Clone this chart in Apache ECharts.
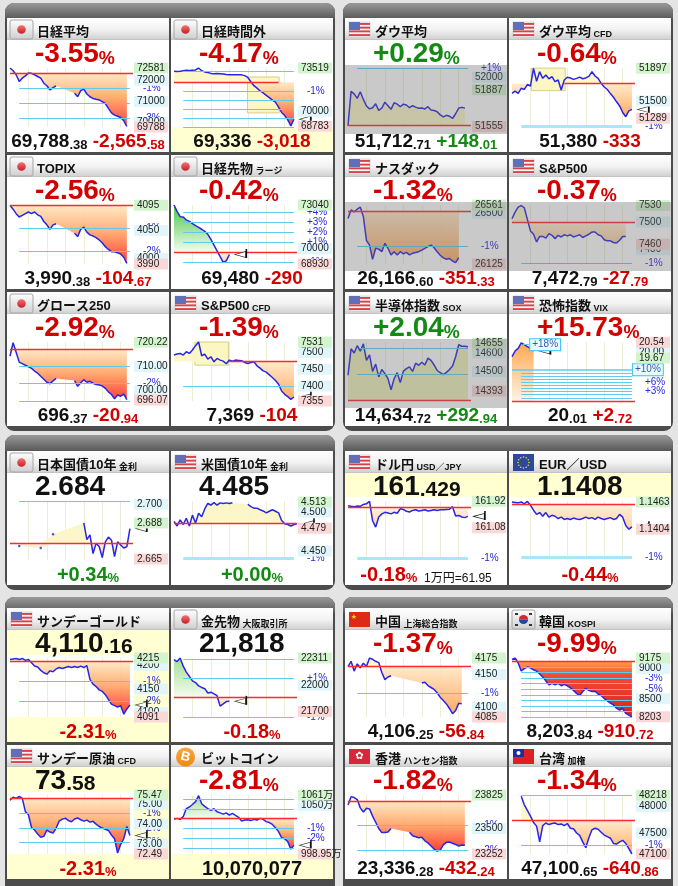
<!DOCTYPE html>
<html>
<head>
<meta charset="utf-8">
<script src="https://cdn.jsdelivr.net/npm/echarts@6/dist/echarts.min.js"></script>
</head>
<body style="margin:0;background:#e4e4e4">
<div id="container" style="width:678px;height:886px"></div>
<script>
// ---------------------------------------------------------------
// values, one slot per time step (null = no trade)
// ---------------------------------------------------------------
const nikkeiValues = [72581, 72450, 72260, 71940, 72100, 72210, 72340, 72330, 72260, 72180, 72100, 71860, 71740, 71540, 71650, 71740, null, null, null, null, null, 71380, 71220, 71510, 71580, 71350, 71220, 71140, 71100, 71070, 70990, 70900, 70670, 70460, 70350, 70300, 70240, 70080, 69820];
const jikangaiValues = [73250, 73230, 73260, 73300, 73330, 73310, 73340, 73360, 73519, 73300, 73200, 73150, 73080, 73060, 73070, 73060, 73030, 72990, 72980, 72980, 72970, 72975, 72960, 72900, 72750, 72400, 72080, 71880, 71650, 71490, 71300, 71110, 70900, 70740, 70330, 69900, 69650, 69300, 68800, 69350];
const dowValues = [51561, 51873, 51850, 51810, 51870, 51800, 51740, 51714, 51725, 51760, 51700, 51722, 51775, 51743, 51710, 51770, 51757, 51734, 51757, 51750, 51725, 51743, 51730, 51720, 51722, 51714, 51734, 51705, 51699, 51688, 51660, 51642, 51656, 51648, 51627, 51670, 51722, 51728, 51722];
const dowCfdValues = [51593, 51620, 51593, 51654, 51640, 51700, 51682, 51897, 51740, 51856, 51775, 51816, 51770, 51796, 51735, 51755, 51634, 51755, 51788, 51780, 51763, 51775, 51790, 51770, 51780, 51800, 51856, 51804, 51775, 51715, 51670, 51640, 51590, 51545, 51490, 51440, 51360, 51309, 51380, 51398];
const topixValues = [4095, 4088, 4080, 4074, 4077, 4080, 4083, 4080, 4083, 4078, 4075, 4066, 4060, 4052, 4060, 4062, null, null, null, null, null, 4045, 4039, 4052, 4056, 4047, 4042, 4040, 4037, 4033, 4028, 4021, 4016, 4012, 4012, 4010, 4008, 4002, 3991];
const futuresValues = [73040, 72600, 72227, 72200, 72000, 71900, 71750, 71600, 71480, 71350, 71200, 71000, 70650, 70250, 69850, 69441, 69050, 69150, 69590];
const nasdaqValues = [26462, 26524, 26510, 26530, 26545, 26475, 26300, 26265, 26160, 26241, 26235, 26216, 26278, 26241, 26192, 26216, 26192, 26216, 26200, 26211, 26192, 26204, 26210, 26216, 26228, 26241, 26253, 26265, 26245, 26216, 26190, 26170, 26160, 26165, 26147, 26135, 26172];
const spValues = [7506, 7518, 7527, 7530, 7526, 7505, 7484, 7478, 7464, 7474, 7474, 7471, 7479, 7476, 7470, 7476, 7473, 7477, 7475, 7477, 7473, 7475, 7477, 7472, 7475, 7478, 7482, 7482, 7477, 7475, 7468, 7466, 7466, 7463, 7462, 7467, 7474, 7474];
const growthValues = [714.4, 720.0, 716.0, 711.9, 711.3, 710.6, 710.0, 709.3, 708.2, 707.3, 706.0, 704.8, 703.5, 702.9, 704.1, 705.1, null, null, null, null, null, 704.2, 701.8, 703.3, 704.6, 703.5, 703.9, 703.1, 702.6, 702.4, 702.0, 701.0, 699.5, 698.4, 696.6, 698.2, 697.7, 698.6, 696.3];
const spCfdValues = [7492, 7495, 7497, 7492, 7502, 7497, 7507, 7520, 7531, 7490, 7495, 7480, 7487, 7472, 7482, 7477, 7474, 7466, 7477, 7474, 7477, 7476, 7475, 7470, 7467, 7470, 7472, 7460, 7453, 7445, 7441, 7433, 7425, 7416, 7405, 7385, 7375, 7368, 7360, 7367];
const soxValues = [14479, 14623, 14600, 14640, 14610, 14650, 14560, 14590, 14500, 14540, 14470, 14510, 14488, 14461, 14400, 14460, 14493, 14440, 14500, 14515, 14525, 14500, 14545, 14533, 14550, 14535, 14572, 14560, 14535, 14505, 14493, 14483, 14495, 14510, 14530, 14580, 14645, 14637, 14637, 14634];
const vixValues = [19.74, 20.05, 20.20, 20.50, 20.40, 20.30, 20.20, 20.05];
const jgbValues = [null, null, null, 2.6734, null, null, null, null, null, null, 2.672, null, null, null, 2.6808, null, null, null, null, null, null, null, null, null, 2.688, 2.6774, 2.6804, 2.6685, 2.675, 2.673, 2.666, 2.676, 2.679, 2.677, 2.6665, 2.676, 2.674, 2.672, 2.673, 2.6844];
const ustValues = [4.488, 4.482, 4.490, 4.484, 4.492, 4.482, 4.496, 4.486, 4.4985, 4.494, 4.504, 4.511, 4.509, 4.512, 4.509, 4.5118, 4.5109, 4.5118, 4.5109, 4.512, null, null, null, null, 4.510, 4.507, 4.505, 4.505, 4.503, 4.5014, 4.499, 4.501, 4.503, 4.501, 4.499, 4.489, 4.485, 4.484, 4.482, 4.484, 4.485];
const usdJpyValues = [161.78, 161.76, 161.75, 161.77, 161.76, 161.82, 161.84, 161.92, 161.30, 161.10, 161.42, 161.52, 161.57, 161.55, 161.52, 161.57, 161.54, 161.68, 161.66, 161.60, 161.58, 161.63, 161.65, 161.61, 161.63, 161.65, 161.61, 161.63, 161.65, 161.63, 161.65, 161.65, 161.66, 161.67, 161.75, 161.45, 161.47, 161.42, 161.40, 161.44];
const eurUsdValues = [1.1463, 1.1462, 1.1461, 1.1463, 1.1459, 1.1464, 1.1456, 1.1445, 1.1436, 1.1440, 1.1432, 1.1440, 1.1430, 1.1434, 1.1432, 1.1427, 1.1430, 1.1425, 1.1427, 1.1425, 1.1428, 1.1426, 1.1425, 1.1427, 1.1430, 1.1427, 1.1429, 1.1425, 1.1430, 1.1427, 1.1425, 1.1427, 1.1429, 1.1425, 1.1427, 1.1436, 1.1430, 1.1412, 1.1404, 1.1409];
const goldValues = [4212, 4213, 4214, 4212, 4214, 4210, 4212, 4205, 4198, 4196, 4189, 4184, 4181, 4188, 4186, 4192, 4195, 4193, 4195, 4197, 4195, 4197, 4195, 4198, 4195, 4199, 4170, 4160, 4155, 4148, 4145, 4138, 4128, 4118, 4115, 4112, 4115, 4097, 4108, 4116];
const goldFutValues = [22292, 22270, 22311, 22217, 22150, 22100, 22049, 22030, 21992, 21974, 21960, 21910, 21920, 21900, 21880, 21760, 21786, 21812, 21815];
const chinaValues = [4162, 4170, 4155, 4166, 4160, 4167, 4162, 4175, 4173, 4170, 4168, 4153, 4142, 4146, 4148, null, null, null, null, null, null, null, null, null, 4137, 4138, 4133, 4130, 4127, 4122, 4115, 4110, 4105, 4098, 4090, 4095, 4106, 4105];
const kospiValues = [9150, 9175, 9094, 8960, 9000, 9025, 9013, 8980, 8960, 8910, 8860, 8800, 8730, 8755, 8730, 8755, 8716, 8740, 8716, 8680, 8640, 8590, 8554, 8620, 8673, 8640, 8620, 8625, 8580, 8554, 8505, 8465, 8430, 8400, 8345, 8315, 8340, 8260, 8230, 8203];
const crudeValues = [75.20, 75.36, 75.30, 75.40, 75.30, 74.63, 74.47, 73.83, 73.70, 73.50, 73.34, 73.38, 73.70, 73.60, 73.55, 73.80, 74.15, 74.25, 74.30, 74.18, 74.12, 74.26, 74.31, 74.22, 74.15, 74.20, 74.10, 74.14, 74.00, 73.88, 73.80, 73.74, 73.68, 73.45, 73.26, 72.54, 72.98, 73.26, 73.88, 73.42];
const btcValues = [1035.4, 1036.4, 1035.4, 1038.2, 1046.7, 1048.4, 1051.0, 1054.0, 1060.3, 1051.8, 1049.0, 1046.7, 1045.0, 1046.5, 1043.3, 1042.2, 1040.9, 1042.2, 1039.9, 1041.6, 1039.5, 1037.5, 1033.5, 1034.7, 1035.0, 1034.1, 1035.4, 1034.7, 1036.4, 1035.4, 1033.0, 1032.0, 1030.0, 1026.5, 1022.5, 1016.0, 1015.0, 1012.0, 1004.1, 1008.1];
const hkValues = [23728, 23809, 23800, 23780, 23700, 23660, 23696, 23690, 23620, 23560, 23500, 23460, 23460, 23465, 23500, null, null, null, null, null, 23464, 23430, 23420, 23410, 23415, 23380, 23360, 23330, 23300, 23280, 23290, 23340, 23365, 23368, 23356, 23345, 23330, 23340, 23336];
const taiwanValues = [null, null, null, 48200, 48035, 47930, 47820, 47700, 47630, 47332, 47640, 47690, 47660, 47680, 47690, 47660, 47670, 47640, 47680, 47590, 47580, 47500, 47454, 47330, 47220, 47410, 47560, 47590, 47570, 47515, 47460, 47430, 47400, 47300, 47290, 47330, 47360, 47300, 47200, 47100];

// [previous close, axis min, axis max]
const nikkeiLevels = [72353.96, 69788, 72581];
const jikangaiLevels = [72354, 68720, 73519];
const dowLevels = [51564.7, 51550, 52085];
const dowCfdLevels = [51713, 51184, 51901];
const topixLevels = [4095.05, 3990, 4095.5];
const futuresLevels = [69770, 68930, 73040];
const nasdaqLevels = [26517.93, 26125, 26561];
const spLevels = [7500.58, 7424, 7531];
const growthLevels = [717.31, 695.7, 720.3];
const spCfdLevels = [7473, 7355, 7531];
const soxLevels = [14341.78, 14339, 14660];
const vixLevels = [17.29, 17.29, 20.55];
const jgbLevels = [2.6749, 2.6644, 2.702];
const ustLevels = [4.485, 4.4383, 4.5142];
const usdJpyLevels = [161.72, 160.05, 161.93];
const eurUsdLevels = [1.14584, 1.13372, 1.1465];
const goldLevels = [4207.3, 4091, 4215];
const goldFutLevels = [21857, 21636, 22311];
const chinaLevels = [4163.09, 4085, 4175];
const kospiLevels = [9114.56, 8200, 9175];
const crudeLevels = [75.32, 72.49, 75.47];
const btcLevels = [1036.12, 998.95, 1061];
const hkLevels = [23768.52, 23252, 23825];
const taiwanLevels = [47741.51, 47100, 48222];

// price tags on the right: [value, label, kind]  g = green, p = pink, c = level
const nikkeiTags = [[72000, '72000', 'c'], [71000, '71000', 'c'], [70000, '70000', 'c'], [72581, '72581', 'g'], [69788, '69788', 'p']];
const jikangaiTags = [[70000, '70000', 'c'], [73519, '73519', 'g'], [68783, '68783', 'p']];
const dowTags = [[52000, '52000', 'c'], [51887, '51887', 'g'], [51555, '51555', 'p']];
const dowCfdTags = [[51500, '51500', 'c'], [51897, '51897', 'g'], [51289, '51289', 'p']];
const topixTags = [[4050, '4050', 'c'], [4000, '4000', 'c'], [4095, '4095', 'g'], [3990, '3990', 'p']];
const futuresTags = [[70000, '70000', 'c'], [73040, '73040', 'g'], [68930, '68930', 'p']];
const nasdaqTags = [[26500, '26500', 'c'], [26561, '26561', 'g'], [26125, '26125', 'p']];
const spTags = [[7500, '7500', 'c'], [7450, '7450', 'c'], [7530, '7530', 'g'], [7460, '7460', 'p']];
const growthTags = [[710, '710.00', 'c'], [700, '700.00', 'c'], [720.22, '720.22', 'g'], [696.07, '696.07', 'p']];
const spCfdTags = [[7500, '7500', 'c'], [7450, '7450', 'c'], [7400, '7400', 'c'], [7531, '7531', 'g'], [7355, '7355', 'p']];
const soxTags = [[14600, '14600', 'c'], [14500, '14500', 'c'], [14655, '14655', 'g'], [14393, '14393', 'p']];
const vixTags = [[20.00, '20.00', 'c'], [20.54, '20.54', 'p'], [19.67, '19.67', 'g']];
const jgbTags = [[2.700, '2.700', 'c'], [2.688, '2.688', 'g'], [2.665, '2.665', 'p']];
const ustTags = [[4.500, '4.500', 'c'], [4.450, '4.450', 'c'], [4.513, '4.513', 'g'], [4.479, '4.479', 'p']];
const usdJpyTags = [[161.92, '161.92', 'g'], [161.08, '161.08', 'p']];
const eurUsdTags = [[1.1463, '1.1463', 'g'], [1.1404, '1.1404', 'p']];
const goldTags = [[4200, '4200', 'c'], [4150, '4150', 'c'], [4100, '4100', 'c'], [4215, '4215', 'g'], [4091, '4091', 'p']];
const goldFutTags = [[22000, '22000', 'c'], [22311, '22311', 'g'], [21700, '21700', 'p']];
const chinaTags = [[4150, '4150', 'c'], [4100, '4100', 'c'], [4175, '4175', 'g'], [4085, '4085', 'p']];
const kospiTags = [[9000, '9000', 'c'], [8500, '8500', 'c'], [9175, '9175', 'g'], [8203, '8203', 'p']];
const crudeTags = [[75.00, '75.00', 'c'], [74.00, '74.00', 'c'], [73.00, '73.00', 'c'], [75.47, '75.47', 'g'], [72.49, '72.49', 'p']];
const btcTags = [[1050, '1050万', 'c'], [1061, '1061万', 'g'], [998.95, '998.95万', 'p']];
const hkTags = [[23500, '23500', 'c'], [23825, '23825', 'g'], [23252, '23252', 'p']];
const taiwanTags = [[48000, '48000', 'c'], [47500, '47500', 'c'], [48218, '48218', 'g'], [47100, '47100', 'p']];

// percent lines from previous close: [percent, label]
const nikkeiPct = [[-1, '-1%'], [-2, '-2%'], [-3, '-3%']];
const jikangaiPct = [[-1, '-1%'], [-2, ''], [-3, ''], [-4, ''], [-5, '']];
const jikangaiLines = [73248];
const dowPct = [[1, '+1%']];
const dowCfdPct = [[-1, '-1%']];
const topixPct = [[-1, '-1%'], [-2, '-2%']];
const futuresPct = [[4, '+4%'], [3, '+3%'], [2, '+2%'], [1, '+1%'], [-1, '-1%']];
const nasdaqPct = [[-1, '-1%']];
const spPct = [[-1, '-1%']];
const growthPct = [[-1, ''], [-2, '-2%'], [-3, '']];
const spCfdPct = [[-1, '']];
const soxPct = [[2, ''], [1, '']];
const vixPct = [[1, ''], [2, ''], [3, '+3%'], [4, ''], [5, ''], [6, '+6%'], [7, ''], [8, ''], [9, ''], [10, '+10%'], [18, '+18%']];
const jgbPct = [[1, '']];
const ustPct = [[-1, '-1%']];
const usdJpyPct = [[-1, '-1%']];
const eurUsdPct = [[-1, '-1%']];
const goldPct = [[-1, '-1%'], [-2, '-2%']];
const goldFutPct = [[2, ''], [1, '+1%'], [-1, '-1%']];
const chinaPct = [[-1, '-1%']];
const kospiPct = [[-1, ''], [-2, ''], [-3, '-3%'], [-4, ''], [-5, '-5%'], [-6, ''], [-7, ''], [-8, ''], [-9, ''], [-10, '']];
const crudePct = [[-1, '-1%'], [-2, '-2%'], [-3, '-3%']];
const btcPct = [[2, ''], [1, ''], [-1, '-1%'], [-2, '-2%'], [-3, '']];
const hkPct = [[-1, '-1%'], [-2, '-2%']];
const taiwanPct = [[1, ''], [-1, '-1%']];

// highlighted ranges: [[slot, value], [slot, value]]
const jikangaiBox = [[23.9, 72788], [34.2, 69866]];
const dowCfdBox = [[6.3, 51900], [17.3, 51626]];
const spCfdBox = [[6.8, 7531], [17.7, 7462]];

// ---------------------------------------------------------------
const FONT = "'Liberation Sans','Noto Sans CJK JP',sans-serif";
const RED = '#d30000', GREEN = '#138a13', BLACK = '#111111';
const COLX = [7, 171, 345, 509];
const ROWY = [18, 155, 292, 451, 608, 745];
const CW = 162, CH = 134;

function topPct(n, color) { return [[n, 28, color, 30], ['%', 18, color, 23]]; }
function topVal(big, small) { return small ? [[big, 28, BLACK, 30], [small, 21, BLACK, 25]] : [[big, 28, BLACK, 30]]; }
function bottomVal(vb, vs, cb, cs, color) {
  const p = [[vb, 19, BLACK, 21]];
  if (vs) p.push([vs, 13, BLACK, 17]);
  if (cb) p.push([' ' + cb, 19, color, 21]);
  if (cs) p.push([cs, 13, color, 17]);
  return p;
}
function bottomPct(n, color, extra) {
  const p = [[n, 20, color, 22], ['%', 13, color, 17]];
  if (extra) p.push(['  ' + extra, 12, BLACK, 17, 'normal']);
  return p;
}

const cells = [
  {col: 0, row: 0, title: '日経平均', flag: 'jp', values: nikkeiValues, levels: nikkeiLevels, tags: nikkeiTags, pct: nikkeiPct, below: 'deep',
    top: topPct('-3.55', RED), bottom: bottomVal('69,788', '.38', '-2,565', '.58', RED)},
  {col: 1, row: 0, title: '日経時間外', flag: 'jp', values: jikangaiValues, levels: jikangaiLevels, tags: jikangaiTags, pct: jikangaiPct, lines: jikangaiLines, below: 'deep',
    prevRange: [0, 34], box: jikangaiBox, pointer: true, yellow: 'bottom',
    top: topPct('-4.17', RED), bottom: bottomVal('69,336', '', '-3,018', '', RED)},
  {col: 2, row: 0, title: 'ダウ平均', flag: 'us', values: dowValues, levels: dowLevels, tags: dowTags, pct: dowPct, above: 'pale', gray: true,
    top: topPct('+0.29', GREEN), bottom: bottomVal('51,712', '.71', '+148', '.01', GREEN)},
  {col: 3, row: 0, title: 'ダウ平均', sub: 'CFD', flag: 'us', values: dowCfdValues, levels: dowCfdLevels, tags: dowCfdTags, pct: dowCfdPct, below: 'mid',
    prevRange: [17, 40], box: dowCfdBox, pointer: true, pctOpts: {'-1': {w: 3, color: '#a6e8f8'}},
    top: topPct('-0.64', RED), bottom: bottomVal('51,380', '', '-333', '', RED)},
  {col: 0, row: 1, title: 'TOPIX', flag: 'jp', values: topixValues, levels: topixLevels, tags: topixTags, pct: topixPct, below: 'deep',
    top: topPct('-2.56', RED), bottom: bottomVal('3,990', '.38', '-104', '.67', RED)},
  {col: 1, row: 1, title: '日経先物', sub: 'ラージ', flag: 'jp', values: futuresValues, levels: futuresLevels, tags: futuresTags, pct: futuresPct, below: 'light', above: 'green',
    pointer: true, top: topPct('-0.42', RED), bottom: bottomVal('69,480', '', '-290', '', RED)},
  {col: 2, row: 1, title: 'ナスダック', flag: 'us', values: nasdaqValues, levels: nasdaqLevels, tags: nasdaqTags, pct: nasdaqPct, below: 'mid', gray: true,
    top: topPct('-1.32', RED), bottom: bottomVal('26,166', '.60', '-351', '.33', RED)},
  {col: 3, row: 1, title: 'S&P500', flag: 'us', values: spValues, levels: spLevels, tags: spTags, pct: spPct, below: 'light', gray: true,
    top: topPct('-0.37', RED), bottom: bottomVal('7,472', '.79', '-27', '.79', RED)},
  {col: 0, row: 2, title: 'グロース250', flag: 'jp', values: growthValues, levels: growthLevels, tags: growthTags, pct: growthPct, below: 'deep',
    top: topPct('-2.92', RED), bottom: bottomVal('696', '.37', '-20', '.94', RED)},
  {col: 1, row: 2, title: 'S&P500', sub: 'CFD', flag: 'us', values: spCfdValues, levels: spCfdLevels, tags: spCfdTags, pct: spCfdPct, below: 'mid', above: 'pale',
    prevRange: [18, 40], box: spCfdBox, pointer: true,
    top: topPct('-1.39', RED), bottom: bottomVal('7,369', '', '-104', '', RED)},
  {col: 2, row: 2, title: '半導体指数', sub: 'SOX', flag: 'us', values: soxValues, levels: soxLevels, tags: soxTags, pct: soxPct, above: 'sox', gray: true,
    pctOpts: {'2': {x0: 4}},
    top: topPct('+2.04', GREEN), bottom: bottomVal('14,634', '.72', '+292', '.94', GREEN)},
  {col: 3, row: 2, title: '恐怖指数', sub: 'VIX', flag: 'us', values: vixValues, levels: vixLevels, tags: vixTags, pct: vixPct, above: 'vix', pointer: true,
    pctOpts: {'10': {box: true, x0: 0, w: 1.5}, '18': {box: true, x0: 3.6, x1: 5.6}},
    top: topPct('+15.73', RED), bottom: bottomVal('20', '.01', '+2', '.72', RED)},
  {col: 0, row: 3, title: '日本国債10年', sub: '金利', flag: 'jp', values: jgbValues, levels: jgbLevels, tags: jgbTags, pct: jgbPct, below: 'light', above: 'pale', pointer: true,
    top: topVal('2.684', ''), bottom: bottomPct('+0.34', GREEN)},
  {col: 1, row: 3, title: '米国債10年', sub: '金利', flag: 'us', values: ustValues, levels: ustLevels, tags: ustTags, pct: ustPct, below: 'light', above: 'pale', pointer: true,
    pctOpts: {'-1': {w: 3, color: '#a6e8f8'}},
    top: topVal('4.485', ''), bottom: bottomPct('+0.00', GREEN)},
  {col: 2, row: 3, title: 'ドル円', sub: 'USD／JPY', flag: 'us', values: usdJpyValues, levels: usdJpyLevels, tags: usdJpyTags, pct: usdJpyPct, below: 'light', pointer: true, yellow: 'top',
    pctOpts: {'-1': {w: 3, color: '#a6e8f8'}},
    top: topVal('161', '.429'), bottom: bottomPct('-0.18', RED, '1万円=61.95')},
  {col: 3, row: 3, title: 'EUR／USD', flag: 'eu', values: eurUsdValues, levels: eurUsdLevels, tags: eurUsdTags, pct: eurUsdPct, below: 'light', pointer: true, yellow: 'top',
    pctOpts: {'-1': {w: 3, color: '#a6e8f8'}},
    top: topVal('1.1408', ''), bottom: bottomPct('-0.44', RED)},
  {col: 0, row: 4, title: 'サンデーゴールド', flag: 'us', values: goldValues, levels: goldLevels, tags: goldTags, pct: goldPct, below: 'deep', pointer: true, yellow: 'full',
    top: topVal('4,110', '.16'), bottom: bottomPct('-2.31', RED)},
  {col: 1, row: 4, title: '金先物', sub: '大阪取引所', flag: 'jp', values: goldFutValues, levels: goldFutLevels, tags: goldFutTags, pct: goldFutPct, below: 'light', above: 'lgreen', pointer: true,
    top: topVal('21,818', ''), bottom: bottomPct('-0.18', RED)},
  {col: 2, row: 4, title: '中国', sub: '上海総合指数', flag: 'cn', values: chinaValues, levels: chinaLevels, tags: chinaTags, pct: chinaPct, below: 'mid',
    top: topPct('-1.37', RED), bottom: bottomVal('4,106', '.25', '-56', '.84', RED)},
  {col: 3, row: 4, title: '韓国', sub: 'KOSPI', flag: 'kr', values: kospiValues, levels: kospiLevels, tags: kospiTags, pct: kospiPct, below: 'kospi',
    top: topPct('-9.99', RED), bottom: bottomVal('8,203', '.84', '-910', '.72', RED)},
  {col: 0, row: 5, title: 'サンデー原油', sub: 'CFD', flag: 'us', values: crudeValues, levels: crudeLevels, tags: crudeTags, pct: crudePct, below: 'deep', pointer: true, yellow: 'full',
    top: topVal('73', '.58'), bottom: bottomPct('-2.31', RED)},
  {col: 1, row: 5, title: 'ビットコイン', flag: 'btc', values: btcValues, levels: btcLevels, tags: btcTags, pct: btcPct, below: 'deep', above: 'lgreen', pointer: true, yellow: 'bottom',
    top: topPct('-2.81', RED), bottom: [['10,070,077', 20, BLACK, 22]]},
  {col: 2, row: 5, title: '香港', sub: 'ハンセン指数', flag: 'hk', values: hkValues, levels: hkLevels, tags: hkTags, pct: hkPct, below: 'deep',
    top: topPct('-1.82', RED), bottom: bottomVal('23,336', '.28', '-432', '.24', RED)},
  {col: 3, row: 5, title: '台湾', sub: '加権', flag: 'tw', values: taiwanValues, levels: taiwanLevels, tags: taiwanTags, pct: taiwanPct, below: 'mid', above: 'pale',
    top: topPct('-1.34', RED), bottom: bottomVal('47,100', '.65', '-640', '.86', RED)}
];

const FILLS = {
  deep: [[0, '#ffe7c2'], [0.45, '#ffa86a'], [1, '#ff3024']],
  mid: [[0, '#ffe9c8'], [1, '#ffa458']],
  light: [[0, '#ffefd9'], [1, '#ffcd98']],
  kospi: [[0, '#ff9436'], [0.25, '#f23a26'], [1, '#d80e0e']],
  pale: [[0, '#fbf5bf'], [1, '#fcf7c8']],
  sox: [[0, '#eef0b2'], [1, '#eef0b6']],
  green: [[0, '#36c236'], [1, '#f2fcee']],
  lgreen: [[0, '#9bdc8c'], [1, '#f3fcef']],
  vix: [[0, '#ffa040'], [1, '#fff2e4']]
};
const TAGBG = {g: '#d3f5cd', p: '#fbd8d8', c: '#e1f6fb'};

function grad(stops) {
  return new echarts.graphic.LinearGradient(0, 0, 0, 1, stops.map(s => ({offset: s[0], color: s[1]})));
}

function richEl(x, y, align, parts) {
  const rich = {};
  let text = '';
  parts.forEach((p, i) => {
    rich['p' + i] = {fontSize: p[1], fontWeight: p[4] || 'bold', fill: p[2], fontFamily: FONT, lineHeight: p[3], verticalAlign: 'bottom'};
    text += '{p' + i + '|' + p[0] + '}';
  });
  return {type: 'text', x: x, y: y, z: 10, silent: true, style: {text: text, rich: rich, align: align, verticalAlign: 'middle'}};
}

function flagEls(kind, x, y) {
  const Z = -4;
  const els = [];
  const rect = (rx, ry, w, h, fill) => ({type: 'rect', z: Z, silent: true, shape: {x: rx, y: ry, width: w, height: h}, style: {fill: fill}});
  if (kind === 'jp' || kind === 'kr') {
    els.push({type: 'rect', z: Z, silent: true, shape: {x: x, y: y, width: 23, height: 19, r: 2},
      style: {fill: grad([[0, '#ffffff'], [1, '#cecece']]), stroke: '#a6a6a6', lineWidth: 1}});
    if (kind === 'jp') {
      els.push({type: 'circle', z: Z, silent: true, shape: {cx: x + 11.5, cy: y + 9.5, r: 4.3}, style: {fill: grad([[0, '#f27272'], [1, '#c41f2a']])}});
    } else {
      els.push({type: 'sector', z: Z, silent: true, shape: {cx: x + 11.5, cy: y + 9.5, r: 4.6, startAngle: Math.PI, endAngle: Math.PI * 2}, style: {fill: '#d42a2a'}});
      els.push({type: 'sector', z: Z, silent: true, shape: {cx: x + 11.5, cy: y + 9.5, r: 4.6, startAngle: 0, endAngle: Math.PI}, style: {fill: '#2a43a0'}});
      [[x + 3, y + 3], [x + 17, y + 3], [x + 3, y + 14], [x + 17, y + 14]].forEach(p => els.push(rect(p[0], p[1], 3, 2, '#333')));
    }
  } else if (kind === 'us') {
    els.push({type: 'rect', z: Z, silent: true, shape: {x: x + 1, y: y + 2, width: 21, height: 15}, style: {fill: '#f4f4f4', stroke: '#b8b8b8', lineWidth: 0.5}});
    for (let i = 0; i < 4; i++) els.push(rect(x + 1, y + 3 + i * 3.7, 21, 1.9, '#d8434a'));
    els.push(rect(x + 1, y + 2, 11, 8, '#6070b8'));
  } else if (kind === 'eu') {
    els.push(rect(x + 1, y + 1, 21, 17, '#2b4a9c'));
    for (let i = 0; i < 12; i++) {
      const a = i / 12 * Math.PI * 2;
      els.push({type: 'circle', z: Z, silent: true, shape: {cx: x + 11.5 + Math.cos(a) * 5.5, cy: y + 9.5 + Math.sin(a) * 5.5, r: 0.8}, style: {fill: '#f2d23a'}});
    }
  } else if (kind === 'cn') {
    els.push(rect(x + 1, y + 2, 21, 15, '#dc2a16'));
    els.push({type: 'text', z: Z, silent: true, x: x + 6, y: y + 7, style: {text: '★', fill: '#f8d820', fontSize: 7, align: 'center', verticalAlign: 'middle', fontFamily: 'DejaVu Sans'}});
  } else if (kind === 'hk') {
    els.push(rect(x + 1, y + 2, 21, 15, '#d6283a'));
    els.push({type: 'text', z: Z, silent: true, x: x + 11.5, y: y + 9.5, style: {text: '✿', fill: '#ffffff', fontSize: 10, align: 'center', verticalAlign: 'middle', fontFamily: 'DejaVu Sans'}});
  } else if (kind === 'tw') {
    els.push(rect(x + 1, y + 2, 21, 15, '#e02020'));
    els.push(rect(x + 1, y + 2, 11, 8, '#1e2d9a'));
    els.push({type: 'circle', z: Z, silent: true, shape: {cx: x + 6.5, cy: y + 6, r: 2}, style: {fill: '#ffffff'}});
  } else if (kind === 'btc') {
    els.push({type: 'circle', z: Z, silent: true, shape: {cx: x + 11.5, cy: y + 10, r: 9.5}, style: {fill: grad([[0, '#f9a640'], [1, '#ee8a12']])}});
    els.push({type: 'text', z: Z, silent: true, x: x + 11.5, y: y + 10, rotation: -0.25,
      style: {text: 'B', fill: '#ffffff', fontSize: 13, fontWeight: 'bold', align: 'center', verticalAlign: 'middle', fontFamily: FONT}});
  }
  return els;
}

const grids = [], xAxes = [], yAxes = [], series = [];
const graphics = [];

graphics.push({type: 'rect', z: -20, silent: true, shape: {x: 0, y: 0, width: 678, height: 886}, style: {fill: '#e4e4e4'}});
[[5, 3, 330, 428], [343, 3, 330, 428], [5, 435, 330, 155], [343, 435, 330, 155], [5, 597, 330, 300], [343, 597, 330, 300]].forEach(p => {
  graphics.push({type: 'rect', z: -19, silent: true, shape: {x: p[0], y: p[1], width: p[2], height: p[3], r: 9}, style: {fill: '#4c4c4c'}});
  graphics.push({type: 'rect', z: -18, silent: true, shape: {x: p[0], y: p[1], width: p[2], height: 16, r: [9, 9, 0, 0]}, style: {fill: grad([[0, '#9a9a9a'], [1, '#585858']])}});
});

cells.forEach((c, gi) => {
  const cx = COLX[c.col], cy = ROWY[c.row];
  const prev = c.levels[0], ymin = c.levels[1], ymax = c.levels[2];
  const vals = c.values;

  // ---- cell frame ----
  graphics.push({type: 'rect', z: -15, silent: true, shape: {x: cx, y: cy, width: CW, height: CH}, style: {fill: '#ffffff'}});
  if (c.yellow === 'bottom') graphics.push({type: 'rect', z: -14, silent: true, shape: {x: cx, y: cy + 109, width: CW, height: CH - 109}, style: {fill: '#ffffd2'}});
  if (c.yellow === 'top') graphics.push({type: 'rect', z: -14, silent: true, shape: {x: cx, y: cy + 21, width: CW, height: 25}, style: {fill: '#ffffd2'}});
  if (c.yellow === 'full') {
    graphics.push({type: 'rect', z: -14, silent: true, shape: {x: cx, y: cy + 21, width: CW, height: CH - 21}, style: {fill: '#ffffd2'}});
    graphics.push({type: 'rect', z: -13, silent: true, shape: {x: cx, y: cy + 47, width: 127, height: 62}, style: {fill: '#ffffff'}});
  }
  graphics.push({type: 'rect', z: -12, silent: true, shape: {x: cx, y: cy, width: CW, height: 21}, style: {fill: grad([[0, '#ffffff'], [0.55, '#f2f2f2'], [1, '#d2d2d2']])}});
  graphics.push({type: 'rect', z: -12, silent: true, shape: {x: cx, y: cy + 21, width: CW, height: 1}, style: {fill: '#c4c4c4'}});
  flagEls(c.flag, cx + 3, cy + 2).forEach(e => graphics.push(e));
  const titleParts = [[c.title, 13, '#111', 20]];
  if (c.sub) titleParts.push([' ' + c.sub, 9, '#111', 17]);
  graphics.push(richEl(cx + 30, cy + 11, 'left', titleParts));
  graphics.push(richEl(cx + 28, cy + 35, 'left', c.top));
  graphics.push(richEl(cx + 81, cy + 123, 'center', c.bottom));
  if (c.gray) graphics.push({type: 'rect', z: 50, silent: true, shape: {x: cx, y: cy + 47, width: CW, height: 69}, style: {fill: 'rgba(105,105,105,0.36)'}});

  // ---- chart ----
  grids.push({left: cx + 3, top: cy + 50, width: 123, height: 59});
  xAxes.push({gridIndex: gi, type: 'value', min: 0, max: 40, interval: 6,
    axisLine: {show: false}, axisTick: {show: false}, axisLabel: {show: false},
    splitLine: {show: true, showMinLine: false, showMaxLine: false, lineStyle: {color: '#eeedd8', width: 1}}});
  yAxes.push({gridIndex: gi, type: 'value', min: ymin, max: ymax, show: false});

  const pts = f => vals.map((v, i) => [i, v == null ? null : f(v)]);
  const common = {type: 'line', xAxisIndex: gi, yAxisIndex: gi, showSymbol: false, symbol: 'none', silent: true, animation: false};

  const pctOpts = c.pctOpts || {};
  const pctLines = c.pct.map(p => {
    const o = Object.assign({}, pctOpts[String(p[0])] || {});
    const v = prev * (1 + p[0] / 100);
    const x0 = o.x0 != null ? o.x0 : 3, x1 = o.x1 != null ? o.x1 : 39;
    let label = {show: false};
    if (p[1]) {
      label = {show: true, position: 'end', formatter: p[1], color: '#2626dd', fontSize: 10, fontFamily: FONT, distance: 13};
      if (o.box) Object.assign(label, {backgroundColor: '#e8f9ff', borderColor: '#39c4ee', borderWidth: 1, padding: [1, 2, 0, 2], color: '#3a5aa8', distance: 1});
    }
    return [{coord: [x0, v], lineStyle: {color: o.color || '#5ccdf0', width: o.w || 1, type: 'solid'}, label: label}, {coord: [x1, v]}];
  });
  (c.lines || []).forEach(v => pctLines.push([{coord: [3, v], lineStyle: {color: '#5ccdf0', width: 1, type: 'solid'}, label: {show: false}}, {coord: [39, v]}]));

  // invisible host for the percent lines (drawn under the fill)
  series.push(Object.assign({}, common, {z: 1, data: pts(v => v), lineStyle: {width: 0},
    markLine: {symbol: 'none', silent: true, animation: false, precision: 8, data: pctLines}}));

  // fill between the price line and the previous close, placed with the axis scales
  const belowFill = grad(FILLS[c.below || 'light']);
  const aboveFill = grad(FILLS[c.above || 'pale']);
  series.push({type: 'custom', coordinateSystem: 'cartesian2d', xAxisIndex: gi, yAxisIndex: gi, z: 2, silent: true, animation: false,
    data: [[0, prev]],
    renderItem: function (params, api) {
      const idx = [];
      vals.forEach((v, i) => { if (v != null) idx.push(i); });
      const first = idx[0], last = idx[idx.length - 1];
      const p0 = api.coord([first, prev]), p1 = api.coord([last, prev]);
      const lower = idx.map(i => api.coord([i, Math.min(vals[i], prev)])).concat([p1, p0]);
      const upper = idx.map(i => api.coord([i, Math.max(vals[i], prev)])).concat([p1, p0]);
      return {type: 'group', children: [
        {type: 'polygon', shape: {points: lower}, style: {fill: belowFill, opacity: 0.92}},
        {type: 'polygon', shape: {points: upper}, style: {fill: aboveFill, opacity: 0.92}}
      ]};
    }});

  if (c.box) {
    series.push(Object.assign({}, common, {z: 3, data: pts(v => v), lineStyle: {width: 0},
      markArea: {silent: true, animation: false, itemStyle: {color: '#fcf7c0', borderColor: '#d6cf8a', borderWidth: 1},
        data: [[{coord: c.box[0]}, {coord: c.box[1]}]]}}));
  }

  const red = {color: '#ff2b2b', width: 1.3, type: 'solid'};
  const prevItem = c.prevRange
    ? [{coord: [c.prevRange[0], prev], lineStyle: red, label: {show: false}}, {coord: [c.prevRange[1], prev]}]
    : {yAxis: prev, lineStyle: red, label: {show: false}};
  const tagItems = c.tags.map(t => ({
    yAxis: t[0], lineStyle: {width: 0, color: 'rgba(0,0,0,0)', type: 'solid'},
    label: {show: true, position: 'end', formatter: t[1], distance: 1, color: '#222', fontSize: 10, fontFamily: FONT,
      backgroundColor: TAGBG[t[2]], padding: [1, 1, 0, 3], width: 30}
  }));

  const lineSeries = Object.assign({}, common, {z: 4, connectNulls: false, data: pts(v => v),
    lineStyle: {color: '#2626e4', width: 1.5},
    markLine: {symbol: 'none', silent: true, animation: false, precision: 8, data: [prevItem].concat(tagItems)}});
  if (c.pointer) {
    let last = vals.length - 1;
    while (vals[last] == null) last--;
    lineSeries.markPoint = {silent: true, animation: false, data: [
      {coord: [last, vals[last]], symbol: 'triangle', symbolRotate: 90, symbolSize: [6, 11], symbolOffset: [11, 0],
        itemStyle: {color: '#ffffff', borderColor: '#222', borderWidth: 0.8}, label: {show: false}},
      {coord: [last, vals[last]], symbol: 'rect', symbolSize: [1.6, 9], symbolOffset: [17, -1],
        itemStyle: {color: '#111'}, label: {show: false}}
    ]};
  }
  series.push(lineSeries);

  // isolated trades (no neighbours) drawn as dots
  const lonely = [];
  vals.forEach((v, i) => { if (v != null && vals[i - 1] == null && vals[i + 1] == null) lonely.push([i, v]); });
  if (lonely.length) {
    series.push({type: 'scatter', xAxisIndex: gi, yAxisIndex: gi, z: 4, silent: true, animation: false, symbolSize: 2.5,
      itemStyle: {color: '#2626e4'}, data: lonely});
  }
});

const myChart = echarts.init(document.getElementById('container'));
myChart.setOption({
  animation: false,
  grid: grids,
  xAxis: xAxes,
  yAxis: yAxes,
  series: series,
  graphic: graphics
});
</script>
</body>
</html>
